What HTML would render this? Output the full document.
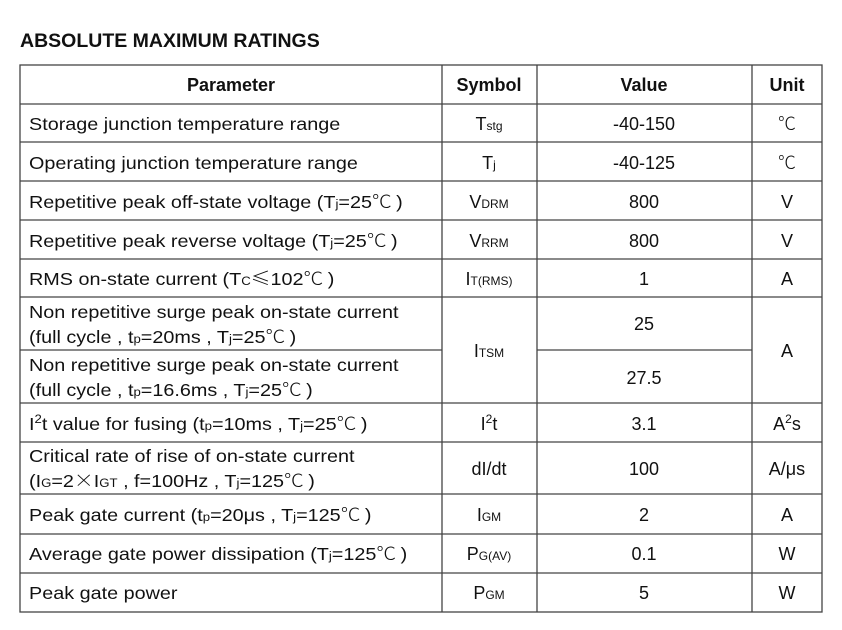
<!DOCTYPE html>
<html><head><meta charset="utf-8"><style>
body{margin:0;background:#fff;}
svg text{font-family:"Liberation Sans","Noto Sans CJK SC",sans-serif;font-size:18px;fill:#111;}
.s{font-size:12px;}
.h{font-weight:bold;}
.c{font-family:"Noto Sans CJK SC","WenQuanYi Zen Hei",sans-serif;font-weight:300;}
</style></head><body>
<svg width="842" height="625" xmlns="http://www.w3.org/2000/svg">
<text x="20" y="47" class="h" style="font-size:19.5px">ABSOLUTE MAXIMUM RATINGS</text>
<g stroke="#444" stroke-width="1.3" fill="none">
<rect x="20" y="65" width="802" height="547"/>
<line x1="442" y1="65" x2="442" y2="612"/>
<line x1="537" y1="65" x2="537" y2="612"/>
<line x1="752" y1="65" x2="752" y2="612"/>
<line x1="20" y1="104" x2="822" y2="104"/>
<line x1="20" y1="142" x2="822" y2="142"/>
<line x1="20" y1="181" x2="822" y2="181"/>
<line x1="20" y1="220" x2="822" y2="220"/>
<line x1="20" y1="259" x2="822" y2="259"/>
<line x1="20" y1="297" x2="822" y2="297"/>
<line x1="20" y1="350" x2="442" y2="350"/>
<line x1="537" y1="350" x2="752" y2="350"/>
<line x1="20" y1="403" x2="822" y2="403"/>
<line x1="20" y1="442" x2="822" y2="442"/>
<line x1="20" y1="494" x2="822" y2="494"/>
<line x1="20" y1="534" x2="822" y2="534"/>
<line x1="20" y1="573" x2="822" y2="573"/>
</g>
<g text-anchor="middle" class="h">
<text x="231" y="91" class="h">Parameter</text>
<text x="489" y="91" class="h">Symbol</text>
<text x="644" y="91" class="h">Value</text>
<text x="787" y="91" class="h">Unit</text>
</g>
<g transform="translate(29,0) scale(1.1,1) translate(-29,0)">
<text x="29" y="130">Storage junction temperature range</text>
<text x="29" y="169">Operating junction temperature range</text>
<text x="29" y="208">Repetitive peak off-state voltage (T<tspan class="s">j</tspan>=25<tspan class="c">℃</tspan><tspan dx="4">)</tspan></text>
<text x="29" y="247">Repetitive peak reverse voltage (T<tspan class="s">j</tspan>=25<tspan class="c">℃</tspan><tspan dx="4">)</tspan></text>
<text x="29" y="285">RMS on-state current (T<tspan class="s">C</tspan><tspan class="c">≤</tspan>102<tspan class="c">℃</tspan><tspan dx="4">)</tspan></text>
<text x="29" y="318">Non repetitive surge peak on-state current</text>
<text x="29" y="343">(full cycle , t<tspan class="s">p</tspan>=20ms , T<tspan class="s">j</tspan>=25<tspan class="c">℃</tspan><tspan dx="4">)</tspan></text>
<text x="29" y="371">Non repetitive surge peak on-state current</text>
<text x="29" y="396">(full cycle , t<tspan class="s">p</tspan>=16.6ms , T<tspan class="s">j</tspan>=25<tspan class="c">℃</tspan><tspan dx="4">)</tspan></text>
<text x="29" y="430">I<tspan class="s" dy="-7">2</tspan><tspan dy="7">t value for fusing (t</tspan><tspan class="s">p</tspan>=10ms , T<tspan class="s">j</tspan>=25<tspan class="c">℃</tspan><tspan dx="4">)</tspan></text>
<text x="29" y="462">Critical rate of rise of on-state current</text>
<text x="29" y="487">(I<tspan class="s">G</tspan>=2<tspan class="c">×</tspan>I<tspan class="s">GT</tspan> , f=100Hz , T<tspan class="s">j</tspan>=125<tspan class="c">℃</tspan><tspan dx="4">)</tspan></text>
<text x="29" y="521">Peak gate current (t<tspan class="s">p</tspan>=20μs , T<tspan class="s">j</tspan>=125<tspan class="c">℃</tspan><tspan dx="4">)</tspan></text>
<text x="29" y="560">Average gate power dissipation (T<tspan class="s">j</tspan>=125<tspan class="c">℃</tspan><tspan dx="4">)</tspan></text>
<text x="29" y="599">Peak gate power</text>
</g>
<g text-anchor="middle">
<text x="489" y="130">T<tspan class="s">stg</tspan></text>
<text x="489" y="169">T<tspan class="s">j</tspan></text>
<text x="489" y="208">V<tspan class="s">DRM</tspan></text>
<text x="489" y="247">V<tspan class="s">RRM</tspan></text>
<text x="489" y="285">I<tspan class="s">T(RMS)</tspan></text>
<text x="489" y="357">I<tspan class="s">TSM</tspan></text>
<text x="489" y="430">I<tspan class="s" dy="-7">2</tspan><tspan dy="7">t</tspan></text>
<text x="489" y="475">dI/dt</text>
<text x="489" y="521">I<tspan class="s">GM</tspan></text>
<text x="489" y="560">P<tspan class="s">G(AV)</tspan></text>
<text x="489" y="599">P<tspan class="s">GM</tspan></text>

<text x="644" y="130">-40-150</text>
<text x="644" y="169">-40-125</text>
<text x="644" y="208">800</text>
<text x="644" y="247">800</text>
<text x="644" y="285">1</text>
<text x="644" y="330">25</text>
<text x="644" y="384">27.5</text>
<text x="644" y="430">3.1</text>
<text x="644" y="475">100</text>
<text x="644" y="521">2</text>
<text x="644" y="560">0.1</text>
<text x="644" y="599">5</text>

<text x="787" y="130" class="c">℃</text>
<text x="787" y="169" class="c">℃</text>
<text x="787" y="208">V</text>
<text x="787" y="247">V</text>
<text x="787" y="285">A</text>
<text x="787" y="357">A</text>
<text x="787" y="430">A<tspan class="s" dy="-7">2</tspan><tspan dy="7">s</tspan></text>
<text x="787" y="475">A/μs</text>
<text x="787" y="521">A</text>
<text x="787" y="560">W</text>
<text x="787" y="599">W</text>
</g>
</svg>
</body></html>
